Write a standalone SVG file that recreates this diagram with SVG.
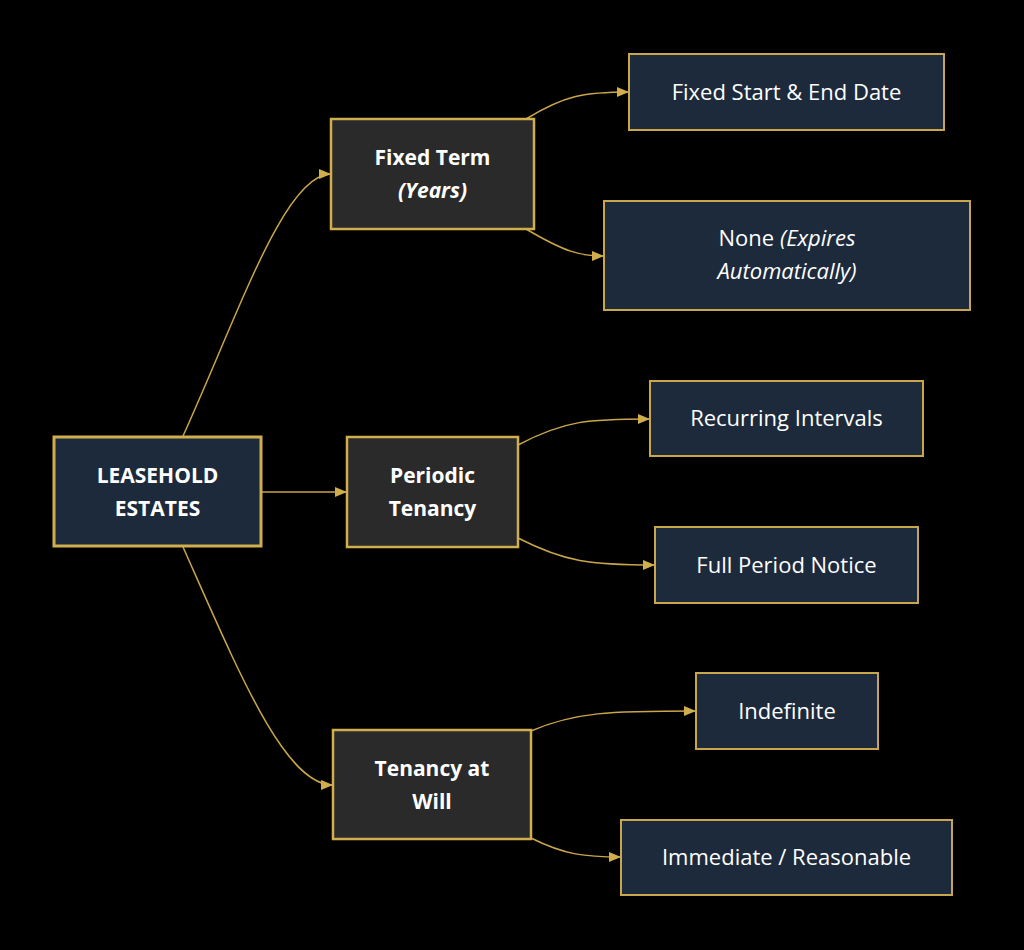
<svg xmlns="http://www.w3.org/2000/svg" width="1024" height="950" viewBox="0 0 1024 950">
<defs>
<marker id="arr" viewBox="0 0 12 10" refX="12" refY="5" markerWidth="12" markerHeight="10" markerUnits="userSpaceOnUse" orient="auto">
<path d="M0,0 L12,5 L0,10 z" fill="#d1ae4d"/>
</marker>
<style>
.bg{fill:#000}
.root{fill:#1c2a3c;stroke:#d1ae4d;stroke-width:3}
.mid{fill:#2a2a2a;stroke:#d1ae4d;stroke-width:2.5}
.leaf{fill:#1c2a3c;stroke:#c9a64a;stroke-width:2}
.t{font-family:"Open Sans","DejaVu Sans",sans-serif;fill:#fff;text-anchor:middle;font-size:22px}
.b{font-weight:bold;font-size:21px}
.i{font-style:italic}
.e{fill:none;stroke:#c9a64a;stroke-width:1.5;marker-end:url(#arr)}
</style>
</defs>
<rect class="bg" x="0" y="0" width="1024" height="950"/>
<g id="connectors">
<path class="e" d="M183,436 C240,310 285,174 331,174"/>
<path class="e" d="M262,492 L347,492"/>
<path class="e" d="M183,547 C240,675 285,785 333,785"/>
<path class="e" d="M526,119 C565,95 585,92 629,92"/>
<path class="e" d="M526,229 C565,252 580,256 604,256"/>
<path class="e" d="M518,445 C565,420 590,419 650,419"/>
<path class="e" d="M518,538 C565,562 590,565 655,565"/>
<path class="e" d="M531,731 C575,712 610,711 696,711"/>
<path class="e" d="M531,838 C565,855 585,857 621,857"/>
</g>
<g id="root">
<rect class="root" x="54" y="437" width="207" height="109"/>
<text class="t b" x="157.5" y="482.5">LEASEHOLD</text>
<text class="t b" x="157.5" y="515.5">ESTATES</text>
</g>
<g id="fixed-term">
<rect class="mid" x="331" y="119" width="203" height="110"/>
<text class="t b" x="432.5" y="164.5">Fixed Term</text>
<text class="t b i" x="432.5" y="197.5">(Years)</text>
</g>
<g id="periodic">
<rect class="mid" x="347" y="437" width="171" height="110"/>
<text class="t b" x="432.5" y="482.5">Periodic</text>
<text class="t b" x="432.5" y="515.5">Tenancy</text>
</g>
<g id="will">
<rect class="mid" x="333" y="730" width="198" height="109"/>
<text class="t b" x="432" y="775.5">Tenancy at</text>
<text class="t b" x="432" y="808.5">Will</text>
</g>
<g id="fixed-dates">
<rect class="leaf" x="629" y="54" width="315" height="76"/>
<text class="t" x="786.5" y="99.5">Fixed Start &amp; End Date</text>
</g>
<g id="none">
<rect class="leaf" x="604" y="201" width="366" height="109"/>
<text class="t" x="787" y="245.5">None <tspan class="i">(Expires</tspan></text>
<text class="t i" x="787" y="278.5">Automatically)</text>
</g>
<g id="recurring">
<rect class="leaf" x="650" y="381" width="273" height="75"/>
<text class="t" x="786.5" y="425.5">Recurring Intervals</text>
</g>
<g id="full-period">
<rect class="leaf" x="655" y="527" width="263" height="76"/>
<text class="t" x="786.5" y="572.5">Full Period Notice</text>
</g>
<g id="indefinite">
<rect class="leaf" x="696" y="673" width="182" height="76"/>
<text class="t" x="787" y="718.5">Indefinite</text>
</g>
<g id="immediate">
<rect class="leaf" x="621" y="820" width="331" height="75"/>
<text class="t" x="786.5" y="864.5">Immediate / Reasonable</text>
</g>
</svg>
